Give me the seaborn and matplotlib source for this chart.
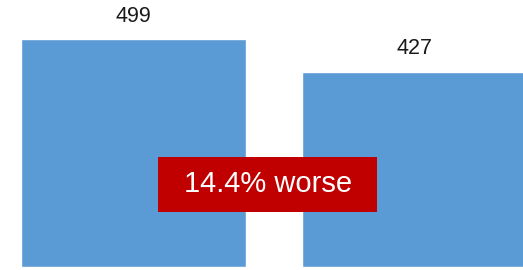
import pandas as pd
import seaborn as sns
import matplotlib.pyplot as plt
from matplotlib.patches import Rectangle

# Values
categories = ['Before', 'After']
values = [499, 427]
callout_text = '14.4% worse'

bar_color = '#5B9BD5'
callout_color = '#C00000'

df = pd.DataFrame({'category': categories, 'value': values})

sns.set_style('white')
plt.rcParams['font.family'] = ['Liberation Sans', 'DejaVu Sans']

fig = plt.figure(figsize=(5.23, 2.70), dpi=100)
ax = fig.add_axes([0, 0, 1, 1])

sns.barplot(data=df, x='category', y='value', color=bar_color,
            saturation=1, width=0.8, ax=ax)

# Crop the view like the reference (second bar runs off the right edge)
ax.set_xlim(-0.475, 1.386)
ax.set_ylim(-6.6, 584.3)
ax.axis('off')

# Value labels above each bar
for i, v in enumerate(values):
    ax.annotate(str(v), xy=(i, v), xytext=(0, 16.5), textcoords='offset points',
                ha='center', va='center', fontsize=15.5, color='#1a1a1a')

# Red callout box in the middle
fig.patches.append(Rectangle((158 / 523, 1 - 212 / 270), 219 / 523, 55 / 270,
                             transform=fig.transFigure, facecolor=callout_color,
                             edgecolor='none', zorder=5))
fig.text(268 / 523, 1 - 184.5 / 270, callout_text, ha='center', va='center',
         color='white', fontsize=21, zorder=6)

fig.savefig('out.png', dpi=100)
